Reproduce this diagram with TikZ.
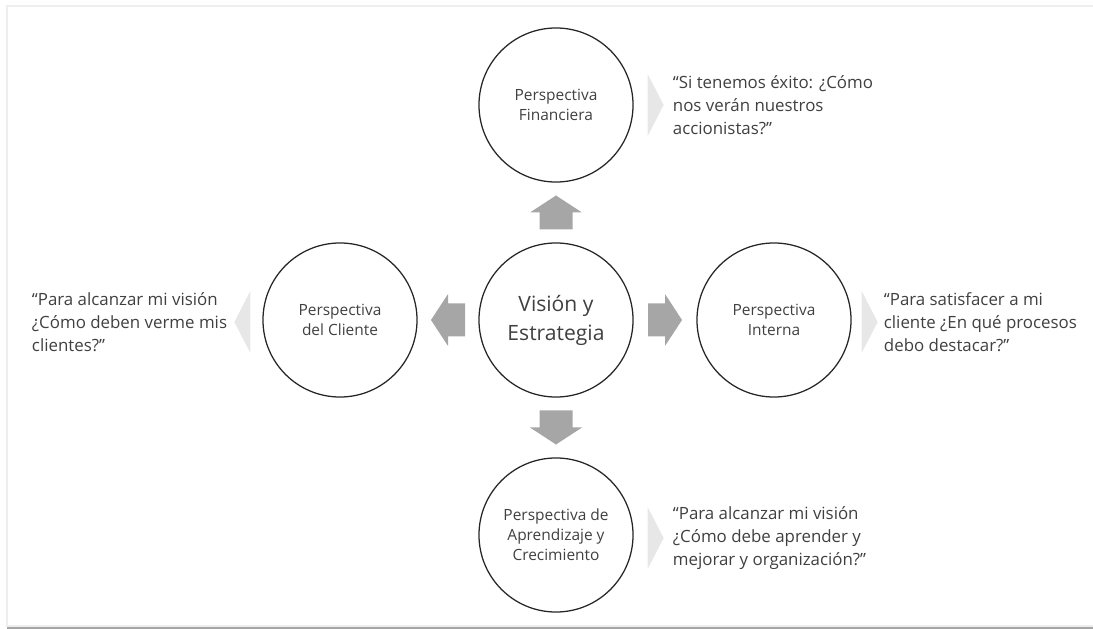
\documentclass[tikz,border=0pt]{standalone}
\usepackage{fontspec}
\setmainfont{Open Sans}
\usetikzlibrary{calc}
\definecolor{TextClr}{RGB}{64,64,64}
\definecolor{ArrowClr}{RGB}{166,166,166}
\definecolor{ChevClr}{RGB}{231,231,231}
\definecolor{FrameClr}{RGB}{238,238,238}
\definecolor{BaseClr}{RGB}{165,165,165}
\tikzset{
  persp/.style={circle,draw=black!85,line width=0.9pt,minimum size=3.85cm,inner sep=0pt,
    text=TextClr,align=center,font=\fontsize{11}{14.2}\selectfont},
  quote/.style={inner sep=0pt,text=TextClr,align=left,font=\fontsize{12}{16.3}\selectfont},
  blockarrow/.pic={\fill[ArrowClr] (0,-17) -- (26,0) -- (16.5,0) -- (16.5,17)
    -- (-16.5,17) -- (-16.5,0) -- (-26,0) -- cycle;},
  chevron/.pic={\fill[ChevClr] (-8,-31) -- (8,0) -- (-8,31) -- cycle;}
}

\begin{document}
\begin{tikzpicture}[x=0.025cm,y=-0.025cm]
\useasboundingbox (0,0) rectangle (1093,629);

% frame
\draw[FrameClr,line width=1.4pt] (1093,6) -- (7,6) -- (7,626) -- (1093,626);
\fill[BaseClr] (7,626.5) rectangle (1093,629);

% circles
\node[persp,font=\fontsize{15}{20.6}\selectfont] (vis) at (556,320) {Visión y\\Estrategia};
\node[persp] (fin) at (556,105) {Perspectiva\\Financiera};
\node[persp] (cli) at (340,320) {Perspectiva\\del Cliente};
\node[persp] (int) at (774,320) {Perspectiva\\Interna};
\node[persp] (apr) at (556,535) {Perspectiva de\\Aprendizaje y\\Crecimiento};

% block arrows
\pic at ($(vis.north)!0.5!(fin.south)$) {blockarrow};
\pic[rotate=90] at ($(vis.west)!0.5!(cli.east)$) {blockarrow};
\pic[rotate=-90] at ($(vis.east)!0.5!(int.west)$) {blockarrow};
\pic[rotate=180] at ($(vis.south)!0.5!(apr.north)$) {blockarrow};

% chevrons
\pic at ($(fin.east)+(22,0)$) {chevron};
\pic[rotate=180] at ($(cli.west)+(-20,2)$) {chevron};
\pic at ($(int.east)+(18,2)$) {chevron};
\pic at ($(apr.east)+(22,3)$) {chevron};

% questions
\node[quote,anchor=west] (qfin) at ($(fin.east)+(39,0)$)
  {“Si tenemos éxito: ¿Cómo\\nos verán nuestros\\accionistas?”};
\node[quote,anchor=east] (qcli) at ($(cli.west)+(-35,2)$)
  {“Para alcanzar mi visión\\¿Cómo deben verme mis\\clientes?”};
\node[quote,anchor=west] (qint) at ($(int.east)+(32,2)$)
  {“Para satisfacer a mi\\cliente ¿En qué procesos\\debo destacar?”};
\node[quote,anchor=west] (qapr) at ($(apr.east)+(39,3)$)
  {“Para alcanzar mi visión\\¿Cómo debe aprender y\\mejorar y organización?”};

\end{tikzpicture}
\end{document}
